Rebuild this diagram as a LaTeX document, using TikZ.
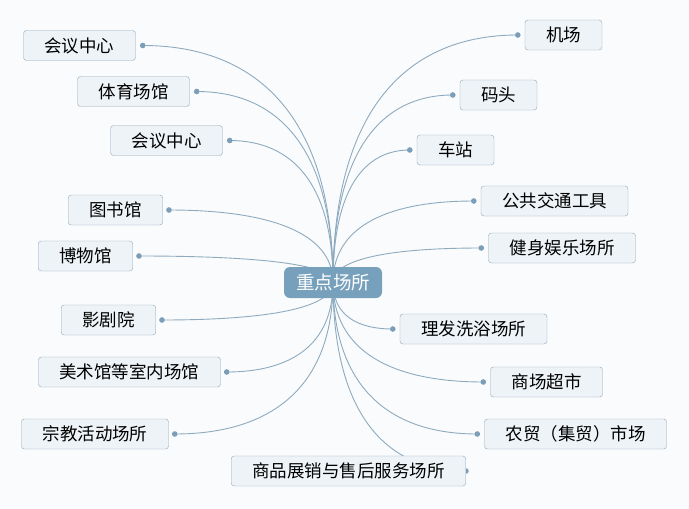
\documentclass[tikz,border=0pt]{standalone}
\usepackage{fontspec}
\newfontfamily\cjk{Noto Sans CJK SC}
\usetikzlibrary{backgrounds,calc}
\definecolor{bgcol}{HTML}{FAFBFC}
\definecolor{hubfill}{HTML}{77A0BC}
\definecolor{leaffill}{HTML}{EEF3F7}
\definecolor{leafline}{HTML}{8FA8BA}
\definecolor{wirecol}{HTML}{8DABC0}
\definecolor{dotcol}{HTML}{7C9EB8}

\begin{document}
\begin{tikzpicture}[x=1pt,y=-1pt,
    hub/.style={fill=hubfill,text=white,rounded corners=6pt,minimum height=31pt,
      minimum width=98pt,font=\cjk\fontsize{18.5}{21}\selectfont},
    leaf/.style={draw=leafline,fill=leaffill,rounded corners=3pt,minimum height=30pt,
      inner xsep=21pt,font=\cjk\fontsize{17.5}{20}\selectfont},
    wire/.style={draw=wirecol,line width=0.9pt}]
  \useasboundingbox (0,0) rectangle (689,509);

  \node[hub] (hub) at (333,282.5) {重点场所};

  % left side
  \node[leaf] (l1) at (79.5,45.5) {会议中心};
  \node[leaf] (l2) at (133.5,91.5) {体育场馆};
  \node[leaf] (l3) at (166.5,140.5) {会议中心};
  \node[leaf] (l4) at (115.5,210) {图书馆};
  \node[leaf] (l5) at (85.5,256) {博物馆};
  \node[leaf] (l6) at (108.5,320) {影剧院};
  \node[leaf] (l7) at (129.5,372) {美术馆等室内场馆};
  \node[leaf] (l8) at (95,434) {宗教活动场所};
  \node[leaf] (b) at (348.5,471) {商品展销与售后服务场所};

  % right side
  \node[leaf] (r1) at (563.5,35) {机场};
  \node[leaf] (r2) at (498.5,95) {码头};
  \node[leaf] (r3) at (455.5,150) {车站};
  \node[leaf] (r4) at (554.5,201) {公共交通工具};
  \node[leaf] (r5) at (562,248) {健身娱乐场所};
  \node[leaf] (r6) at (473.5,329) {理发洗浴场所};
  \node[leaf] (r7) at (546.5,382) {商场超市};
  \node[leaf] (r8) at (575.5,434) {农贸（集贸）市场};

  \begin{scope}[on background layer]
    \fill[bgcol] (0,0) rectangle (689,509);
    \foreach \n/\a/\s in {l1/east/7,l2/east/7,l3/east/7,l4/east/6,l5/east/6,
        l6/east/6,l7/east/6,l8/east/6,b/east/0,
        r1/west/-7,r2/west/-7,r3/west/-7,r4/west/-7,r5/west/-7,
        r6/west/-7,r7/west/-7,r8/west/-7}{
      \coordinate (d\n) at ([xshift=\s pt]\n.\a);
      \draw[wire] (hub.center) .. controls ($(hub.center)!.7!(hub.center|-d\n)$)
        and ($(d\n)!.6!(hub.center|-d\n)$) .. (d\n);
      \fill[dotcol] (d\n) circle (2.8pt);
    }
  \end{scope}
\end{tikzpicture}
\end{document}
